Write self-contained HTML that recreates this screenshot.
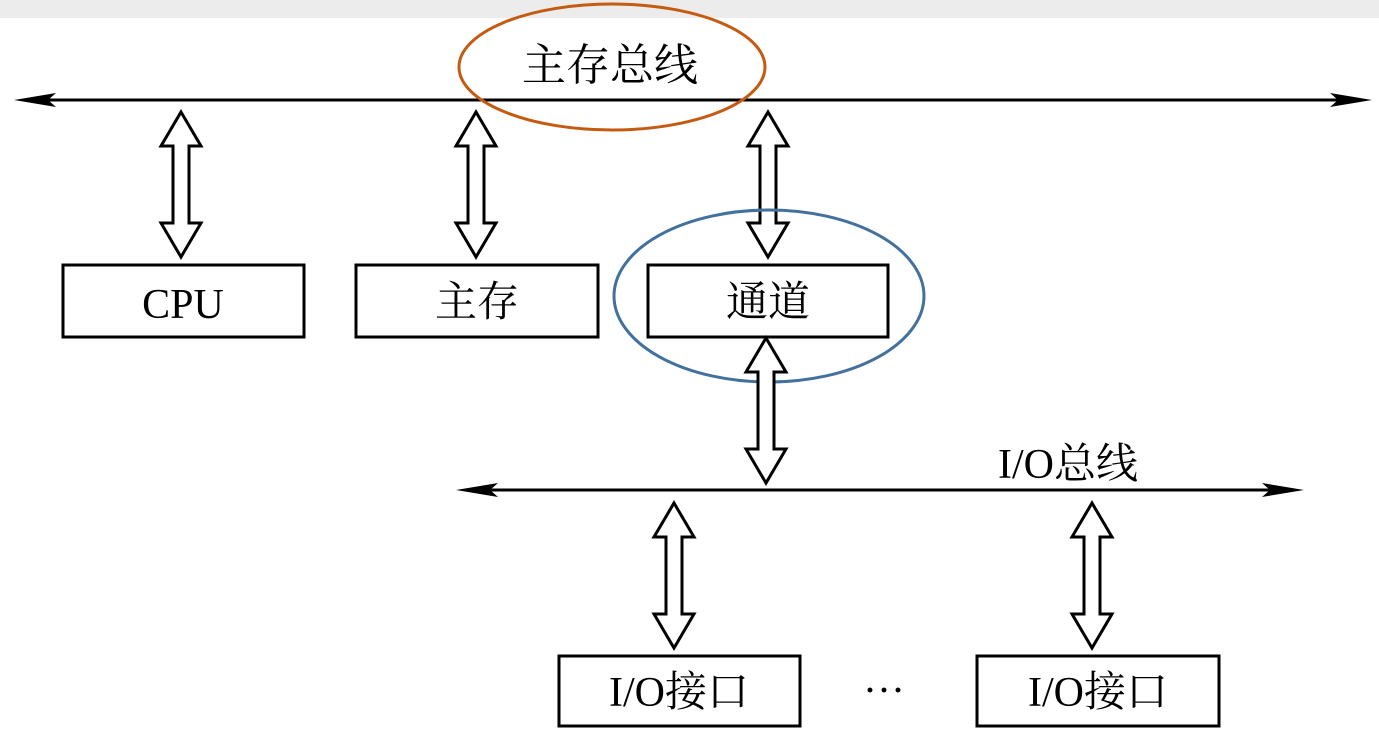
<!DOCTYPE html>
<html><head><meta charset="utf-8"><style>
body{margin:0;background:#fff;}
svg text{font-family:"Liberation Serif","Noto Serif CJK SC",serif;fill:#000;}
</style></head><body>
<svg width="1379" height="732" viewBox="0 0 1379 732" xmlns="http://www.w3.org/2000/svg">
<defs>
<g id="da"><polygon points="0,0 20,34 8,34 8,111 20,111 0,145 -20,111 -8,111 -8,34 -20,34" fill="#fff" stroke="#000" stroke-width="3" stroke-linejoin="miter"/></g>
</defs>
<rect x="0" y="0" width="1379" height="18" fill="#ececec"/>
<!-- main bus -->
<line x1="30" y1="100" x2="1355" y2="100" stroke="#000" stroke-width="3"/>
<polygon points="14,100 56,93 48,100 56,107" fill="#000"/>
<polygon points="1372,100 1330,93 1338,100 1330,107" fill="#000"/>
<text x="610" y="80" font-size="44" text-anchor="middle">主存总线</text>
<ellipse cx="612" cy="67" rx="153" ry="63" fill="none" stroke="#c55a11" stroke-width="3"/>
<use href="#da" x="181" y="112"/>
<use href="#da" x="476" y="112"/>
<use href="#da" x="768" y="112"/>
<rect x="63" y="265" width="241" height="72" fill="none" stroke="#000" stroke-width="3"/>
<rect x="356" y="265" width="242" height="72" fill="none" stroke="#000" stroke-width="3"/>
<rect x="648" y="265" width="240" height="72" fill="none" stroke="#000" stroke-width="3"/>
<text x="183" y="318" font-size="42" text-anchor="middle">CPU</text>
<text x="477" y="316" font-size="42" text-anchor="middle">主存</text>
<text x="768" y="316" font-size="42" text-anchor="middle">通道</text>
<ellipse cx="769" cy="296" rx="155" ry="86" fill="none" stroke="#41719c" stroke-width="3"/>
<use href="#da" x="766" y="338"/>
<!-- IO bus -->
<line x1="470" y1="490" x2="1290" y2="490" stroke="#000" stroke-width="3"/>
<polygon points="456,490 498,483 490,490 498,497" fill="#000"/>
<polygon points="1304,490 1262,483 1270,490 1262,497" fill="#000"/>
<text x="1068" y="478" font-size="42" text-anchor="middle">I/O总线</text>
<use href="#da" x="674" y="503"/>
<use href="#da" x="1092" y="503"/>
<rect x="559" y="656" width="241" height="70" fill="none" stroke="#000" stroke-width="3"/>
<rect x="977" y="656" width="242" height="70" fill="none" stroke="#000" stroke-width="3"/>
<text x="679" y="706" font-size="42" text-anchor="middle">I/O接口</text>
<text x="1098" y="706" font-size="42" text-anchor="middle">I/O接口</text>
<text x="884" y="704" font-size="42" text-anchor="middle">···</text>
</svg>
</body></html>
